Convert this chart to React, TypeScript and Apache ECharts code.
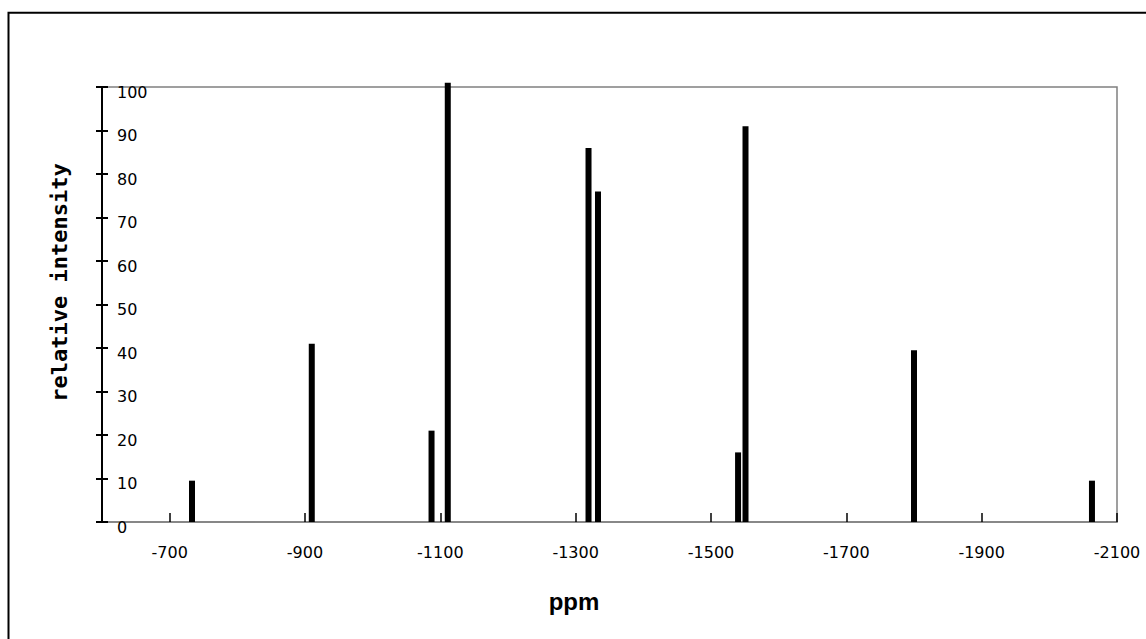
import React, { useEffect, useRef } from "react";
import * as echarts from "echarts";

// chemical shifts (ppm) of each line and their relative intensities
const shifts = [-733, -910, -1087, -1111, -1319, -1333, -1540, -1551, -1800, -2063];
const intensities = [9.5, 41, 21, 101, 86, 76, 16, 91, 39.5, 9.5];

const xMin = -2100;
const xMax = -600;
const xStep = 200;
const yMin = 0;
const yMax = 100;
const yStep = 10;

const xTitle = "ppm";
const yTitle = "relative intensity";

export default function App() {
  const ref = useRef<HTMLDivElement>(null);

  useEffect(() => {
    if (!ref.current) return;
    const chart = echarts.init(ref.current, undefined, { renderer: "svg" });
    const data = shifts.map((s, i) => [s, intensities[i]]);
    const numFont = "'DejaVu Sans', sans-serif";
    const plain = (v: number) => String(v);

    chart.setOption({
      animation: false,
      backgroundColor: "#ffffff",
      grid: {
        left: 102,
        top: 87,
        width: 1015,
        height: 435,
        outerBoundsMode: "none",
        containLabel: false,
        show: true,
        borderColor: "#808080",
        borderWidth: 1.5,
        backgroundColor: "transparent",
      },
      xAxis: {
        type: "value",
        min: xMin,
        max: xMax,
        interval: xStep,
        inverse: true,
        axisLine: { show: true, lineStyle: { color: "#808080", width: 1.5 } },
        axisTick: { show: true, inside: true, length: 9, lineStyle: { color: "#000000", width: 1.5 } },
        axisLabel: {
          showMaxLabel: false,
          margin: 22,
          color: "#000000",
          fontFamily: numFont,
          fontSize: 16,
          formatter: plain,
        },
        splitLine: { show: false },
      },
      yAxis: [
        {
          type: "value",
          min: yMin,
          max: yMax,
          interval: yStep,
          position: "left",
          axisLine: { show: true, lineStyle: { color: "#000000", width: 2 } },
          axisTick: { show: true, inside: false, length: 6, lineStyle: { color: "#000000", width: 2 } },
          axisLabel: {
            inside: true,
            margin: 15,
            color: "#000000",
            fontFamily: numFont,
            fontSize: 16,
            lineHeight: 10,
            verticalAlign: "top",
            formatter: plain,
          },
          splitLine: { show: false },
        },
        {
          type: "value",
          min: yMin,
          max: yMax,
          interval: yStep,
          position: "left",
          offset: 0,
          axisLine: { show: true, lineStyle: { color: "#000000", width: 2 } },
          axisTick: { show: true, inside: true, length: 6, lineStyle: { color: "#000000", width: 2 } },
          axisLabel: { show: false },
          splitLine: { show: false },
        },
      ],
      series: [
        {
          type: "bar",
          data,
          barWidth: 6,
          clip: false,
          itemStyle: { color: "#000000" },
          yAxisIndex: 0,
        },
      ],
      graphic: [
        {
          type: "rect",
          shape: { x: 8.5, y: 12.7, width: 3000, height: 3000 },
          style: { fill: "none", stroke: "#000000", lineWidth: 2 },
          silent: true,
        },
        {
          type: "text",
          x: 59,
          y: 282.5,
          rotation: Math.PI / 2,
          style: {
            text: yTitle,
            fill: "#000000",
            font: "bold 22px 'DejaVu Sans Mono', monospace",
            textAlign: "center",
            textVerticalAlign: "middle",
          },
        },
        {
          type: "text",
          x: 574,
          y: 601,
          style: {
            text: xTitle,
            fill: "#000000",
            font: "bold 24px 'Liberation Sans', Arial, sans-serif",
            textAlign: "center",
            textVerticalAlign: "middle",
          },
        },
      ],
    });

    return () => {
      chart.dispose();
    };
  }, []);

  return (
    <div
      ref={ref}
      style={{ position: "absolute", left: 0, top: 0, width: 1146, height: 639 }}
    />
  );
}
